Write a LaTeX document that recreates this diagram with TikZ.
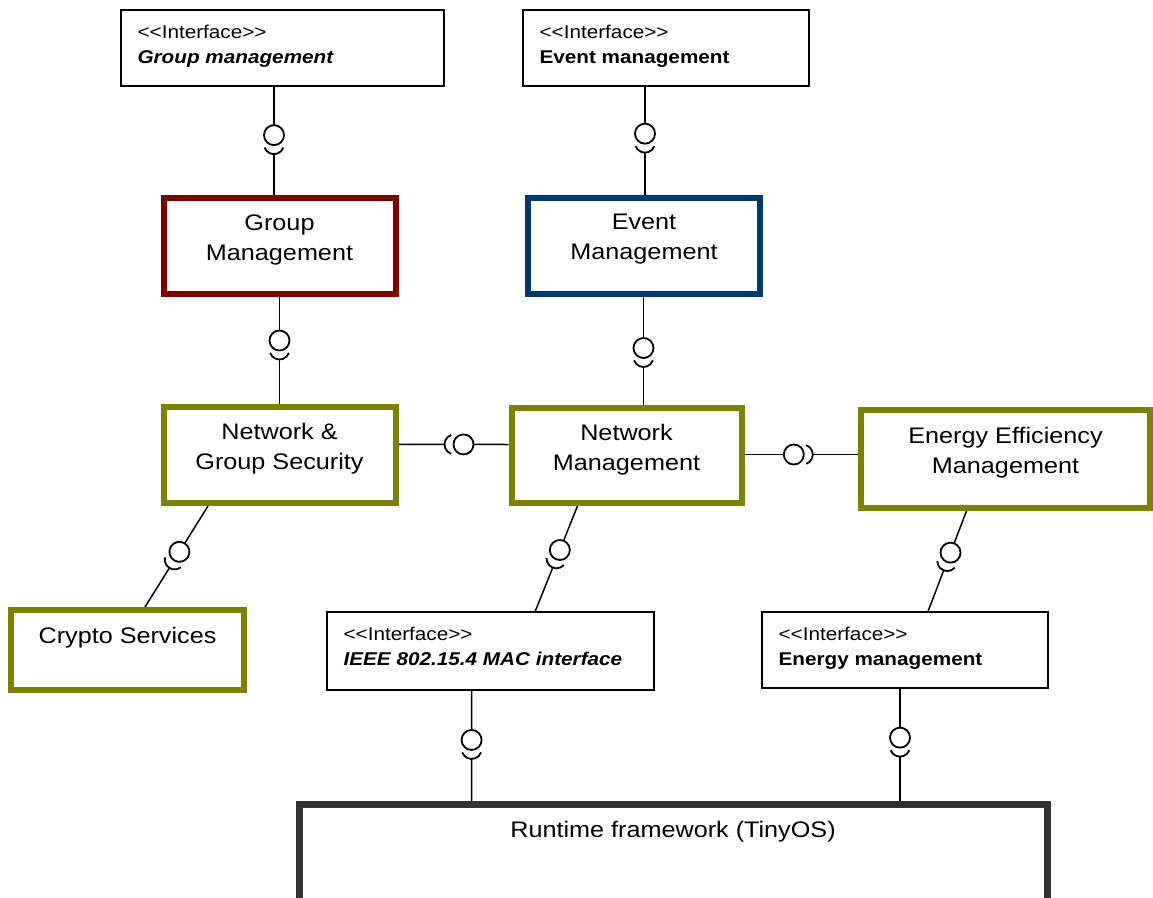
\documentclass[tikz,border=0pt]{standalone}
\usepackage{fontspec}
\setmainfont{Liberation Sans}[FakeStretch=1.12]
\usetikzlibrary{calc,positioning}
\definecolor{grpred}{RGB}{128,0,0}
\definecolor{evtblue}{RGB}{0,56,112}
\definecolor{netolive}{RGB}{128,128,0}
\definecolor{rtgray}{RGB}{51,51,51}
\tikzset{
  comp/.style={draw=#1, line width=6pt, minimum width=232pt, minimum height=96pt, inner sep=0pt},
  comptext/.style={align=center, inner sep=0pt, font=\fontsize{22.5}{30}\selectfont},
  iface/.style={draw, line width=1.3pt, inner sep=0pt},
  ifacetext/.style={align=left, inner sep=0pt, anchor=north west, font=\fontsize{18.5}{24.4}\selectfont},
  conn/.style={line width=1.5pt},
  ballsock/.pic={
    \fill[white] (0,-3) rectangle (19.5,3);
    \draw[line width=1.8pt, fill=white] (0,0) circle (10);
    \draw[line width=1.8pt] (9,0) ++(-70:10) arc (-70:70:10);
  }
}
\newcommand{\stereo}{<{}<Interface>{}>}
% ball side first, socket side second, distance of the ball
\newcommand{\ballsock}[3]{%
  \draw[conn] #1 -- #2;
  \path let \p1=($#2-#1$), \n1={atan2(\y1,\x1)} in ($#1!#3!#2$) pic[rotate=\n1]{ballsock};
}
\begin{document}
\begin{tikzpicture}[x=1pt,y=1pt]
\useasboundingbox[fill=white] (0,0) rectangle (1153,-897);
% interfaces
\node[iface, minimum width=323pt, minimum height=76pt] (gmi) at (282.5,-48) {};
\node[ifacetext] (gmitxt) at ([xshift=17pt,yshift=-16pt]gmi.north west) {\stereo\\\textbf{\textit{Group management}}};
\node[iface, minimum width=286pt, minimum height=76pt] (emi) at (666,-48) {};
\node[ifacetext] (emitxt) at ([xshift=17pt,yshift=-16pt]emi.north west) {\stereo\\\textbf{Event management}};
\node[iface, minimum width=327pt, minimum height=78pt] (ieee) at (490.5,-651) {};
\node[ifacetext] (ieeetxt) at ([xshift=17pt,yshift=-16pt]ieee.north west) {\stereo\\\textbf{\textit{IEEE 802.15.4 MAC interface}}};
\node[iface, minimum width=286pt, minimum height=76pt] (enmi) at (905,-650) {};
\node[ifacetext] (enmitxt) at ([xshift=17pt,yshift=-16pt]enmi.north west) {\stereo\\\textbf{Energy management}};

% components
\node[comp=grpred] (gm) at (279.5,-245.5) {};
\node[comptext] (gmtxt) at ([yshift=6pt]gm.center) {Group\\Management};
\node[comp=evtblue] (em) at (644,-245.5) {};
\node[comptext] (emtxt) at ([yshift=6pt]em.center) {Event\\Management};
\node[comp=netolive] (ngs) at (279.5,-455) {};
\node[comptext] (ngstxt) at ([yshift=6pt]ngs.center) {Network \&\\Group Security};
\node[comp=netolive, minimum width=230pt, minimum height=95pt] (nm) at (626.5,-455.5) {};
\node[comptext] (nmtxt) at ([yshift=6pt]nm.center) {Network\\Management};
\node[comp=netolive, minimum width=289pt, minimum height=98pt] (eem) at (1005.5,-459) {};
\node[comptext] (eemtxt) at ([yshift=6pt]eem.center) {Energy Efficiency\\Management};
\node[comp=netolive, minimum width=233pt, minimum height=80pt] (cs) at (127.5,-650) {};
\node[comptext] (cstxt) at ([yshift=12pt]cs.center) {Crypto Services};
\node[draw=rtgray, line width=7pt, minimum width=748pt, minimum height=200pt] (rt) at (673,-904.5) {};
\node[comptext] (rttxt) at (673,-832) {Runtime framework (TinyOS)};

% ball and socket connectors
\ballsock{([xshift=-8.5pt]gmi.south)}{([xshift=-5.5pt]gm.north)}{48.5pt}
\ballsock{([xshift=-21pt]emi.south)}{([xshift=1pt]em.north)}{47pt}
\ballsock{(gm.south)}{(ngs.north)}{44pt}
\ballsock{([xshift=-0.5pt]em.south)}{([xshift=17pt]nm.north)}{51.5pt}
\ballsock{([xshift=-71.5pt]ngs.south)}{([xshift=17.5pt]cs.north)}{54pt}
\ballsock{([xshift=-49pt]nm.south)}{([xshift=44.7pt]ieee.north)}{47.4pt}
\ballsock{([xshift=-39pt]eem.south)}{([xshift=23pt]enmi.north)}{44.6pt}
\ballsock{([yshift=1pt]nm.east)}{([yshift=4.5pt]eem.west)}{49.3pt}
\ballsock{([yshift=11pt]nm.west)}{([yshift=10.7pt]ngs.east)}{45pt}
\ballsock{([xshift=-19pt]ieee.south)}{([xshift=-201.3pt]rt.north)}{49.3pt}
\ballsock{([xshift=-5pt]enmi.south)}{([xshift=227pt]rt.north)}{49pt}
\end{tikzpicture}
\end{document}
